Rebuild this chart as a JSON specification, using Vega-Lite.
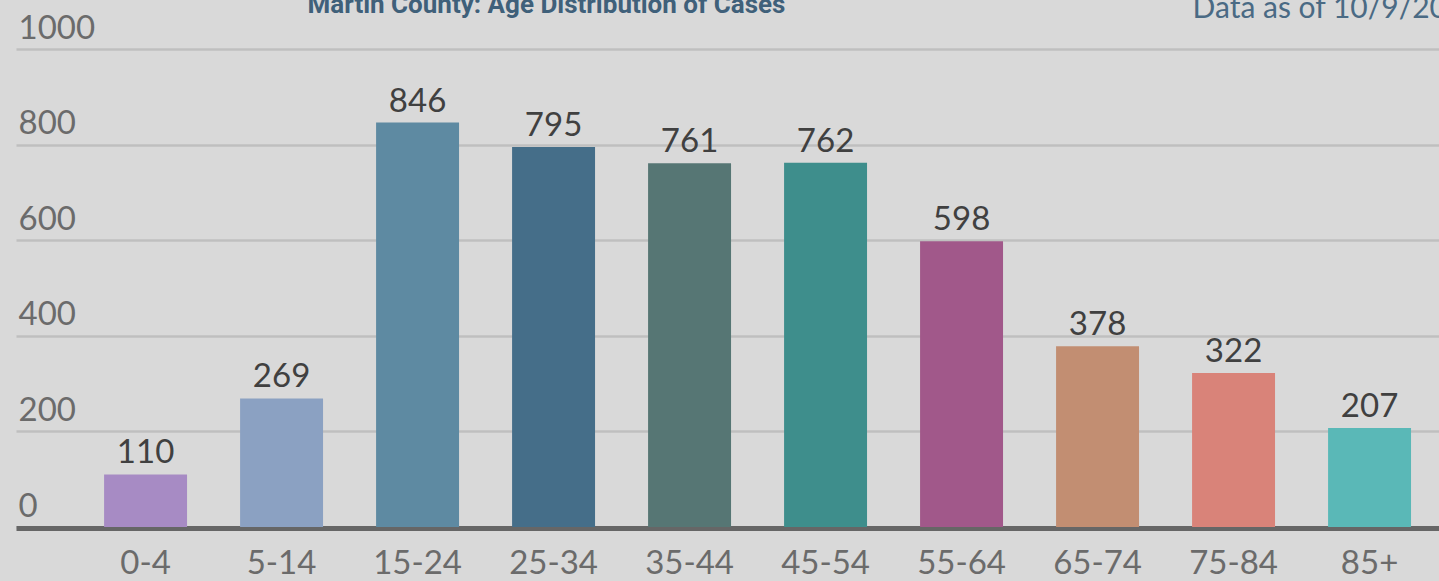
{
  "$schema": "https://vega.github.io/schema/vega-lite/v6.json",
  "autosize": {"type": "none"},
  "padding": {"left": 16, "top": 49, "right": 0, "bottom": 54},
  "width": 1423,
  "height": 478,
  "background": "#d9d9d9",
  "config": {"view": {"stroke": null}, "font": "Lato"},
  "data": {
    "values": [
      {"age": "0-4", "cases": 110},
      {"age": "5-14", "cases": 269},
      {"age": "15-24", "cases": 846},
      {"age": "25-34", "cases": 795},
      {"age": "35-44", "cases": 761},
      {"age": "45-54", "cases": 762},
      {"age": "55-64", "cases": 598},
      {"age": "65-74", "cases": 378},
      {"age": "75-84", "cases": 322},
      {"age": "85+", "cases": 207}
    ]
  },
  "encoding": {
    "x": {
      "field": "age",
      "type": "nominal",
      "sort": null,
      "scale": {"paddingInner": 0.39, "paddingOuter": 0.4267, "align": 0.759},
      "axis": {
        "title": "Martin County: Age Distribution of Cases",
        "titleX": 530,
        "titleY": -516,
        "titleAlign": "center",
        "titleBaseline": "alphabetic",
        "titleFont": "Roboto",
        "titleFontSize": 26,
        "titleFontWeight": "bold",
        "titleColor": "#3f607a",
        "offset": 1,
        "domainColor": "#666666",
        "domainWidth": 5,
        "ticks": false,
        "labelAngle": 0,
        "labelFont": "Lato",
        "labelFontSize": 33,
        "labelColor": "#6b6b6b",
        "labelPadding": 45,
        "labelBaseline": "alphabetic",
        "grid": false
      }
    },
    "y": {
      "field": "cases",
      "type": "quantitative",
      "scale": {"domain": [0, 1000], "nice": false},
      "axis": {
        "values": [0, 200, 400, 600, 800, 1000],
        "format": "d",
        "domain": false,
        "ticks": false,
        "tickSize": 0,
        "grid": true,
        "gridColor": "#bfbfbf",
        "gridWidth": 2.5,
        "labelAlign": "left",
        "labelBaseline": "alphabetic",
        "labelPadding": -2,
        "labelOffset": -11,
        "labelFont": "Lato",
        "labelFontSize": 33,
        "labelColor": "#6b6b6b",
        "title": "Data as of 10/9/2020",
        "titleAngle": 0,
        "titleAlign": "left",
        "titleBaseline": "alphabetic",
        "titleX": 1176,
        "titleY": -32,
        "titleFont": "Lato",
        "titleFontSize": 30,
        "titleFontWeight": "normal",
        "titleColor": "#4a6a84"
      }
    }
  },
  "layer": [
    {
      "mark": {"type": "bar"},
      "encoding": {
        "color": {
          "field": "age",
          "type": "nominal",
          "sort": null,
          "legend": null,
          "scale": {
            "domain": ["0-4", "5-14", "15-24", "25-34", "35-44", "45-54", "55-64", "65-74", "75-84", "85+"],
            "range": ["#a78bc4", "#8ba1c2", "#5e8aa2", "#456e89", "#567674", "#3e8e8c", "#a1588a", "#c28e72", "#d98379", "#5ab8b7"]
          }
        }
      }
    },
    {
      "mark": {"type": "text", "dy": -11, "baseline": "alphabetic", "font": "Lato", "fontSize": 33, "color": "#404040"},
      "encoding": {"text": {"field": "cases", "type": "quantitative"}}
    }
  ]
}
